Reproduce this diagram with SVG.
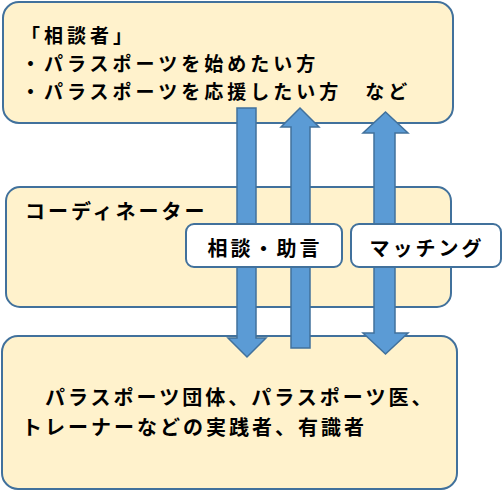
<svg xmlns="http://www.w3.org/2000/svg" width="502" height="491" viewBox="0 0 502 491">
<style>
.box{fill:#FFF2CC;stroke:#41719C;stroke-width:2}
.lbl{fill:#FFFFFF;stroke:#41719C;stroke-width:2}
.arr{fill:#5B9BD5;stroke:#41719C;stroke-width:1.5}
.t{font-family:"Noto Sans CJK JP","Noto Sans CJK SC",sans-serif;font-size:20px;font-weight:bold;fill:#000;letter-spacing:3px}
.s{font-size:19px;letter-spacing:4px}
</style>
<g id="consultee">
<rect class="box" x="3" y="2" width="450" height="121" rx="16"/>
<text class="t s" x="21" y="43">「相談者」</text>
<text class="t s" x="21" y="71">・パラスポーツを始めたい方</text>
<text class="t s" x="21" y="98.5">・パラスポーツを応援したい方　など</text>
</g>
<g id="coordinator">
<rect class="box" x="6" y="187" width="445" height="120" rx="14"/>
<text class="t" x="25" y="219">コーディネーター</text>
</g>
<g id="practitioners">
<rect class="box" x="2" y="336" width="455" height="153" rx="16"/>
<text class="t" x="22" y="405">　パラスポーツ団体、パラスポーツ医、</text>
<text class="t" x="22" y="435">トレーナーなどの実践者、有識者</text>
</g>
<g id="connectors">
<polygon class="arr" points="237,108 256,108 256,338 266,338 247,357 228,338 237,338"/>
<polygon class="arr" points="291,348 310,348 310,127 319,127 300,108 281,127 291,127"/>
<polygon class="arr" points="385.5,112 408,133 395,133 395,333 408,333 385.5,354 363,333 374,333 374,133 363,133"/>
</g>
<g id="label-advice">
<rect class="lbl" x="186" y="224" width="156" height="43" rx="8"/>
<text class="t" x="265" y="256" text-anchor="middle">相談・助言</text>
</g>
<g id="label-matching">
<rect class="lbl" x="351" y="224" width="150" height="43" rx="8"/>
<text class="t" x="427" y="256" text-anchor="middle">マッチング</text>
</g>
</svg>
